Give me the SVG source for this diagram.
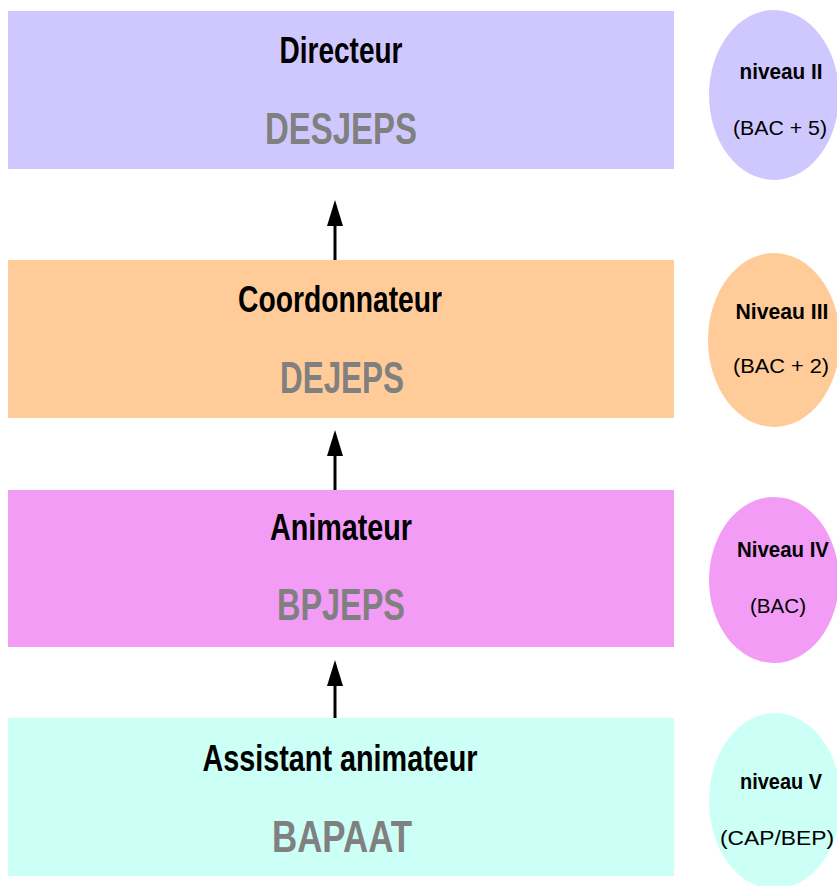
<svg xmlns="http://www.w3.org/2000/svg" width="837" height="886" viewBox="0 0 837 886">
<style>
.title{font-family:"Liberation Sans",Arial,sans-serif;font-weight:bold;font-size:37px;fill:#000;text-anchor:middle}
.code{font-family:"Liberation Sans",Arial,sans-serif;font-weight:bold;font-size:44px;fill:#808080;text-anchor:middle}
.lvl{font-family:"Liberation Sans",Arial,sans-serif;font-weight:bold;font-size:22px;fill:#000;text-anchor:middle}
.dip{font-family:"Liberation Sans",Arial,sans-serif;font-size:21px;fill:#000;text-anchor:middle}
.c1{fill:#CFC8FF}.c2{fill:#FFCC99}.c3{fill:#F39CF5}.c4{fill:#CCFFF5}
.shaft{stroke:#000;stroke-width:3}
.head{fill:#000}
</style>
<rect width="837" height="886" fill="#fff"/>
<g id="connectors">
<line class="shaft" x1="335" y1="262" x2="335" y2="225"/>
<path class="head" d="M335,200 L343,226 L327,226 Z"/>
<line class="shaft" x1="335" y1="491" x2="335" y2="455"/>
<path class="head" d="M335,430 L343,456 L327,456 Z"/>
<line class="shaft" x1="335" y1="719" x2="335" y2="685"/>
<path class="head" d="M335,660 L343,686 L327,686 Z"/>
</g>
<g id="directeur">
<rect class="c1" x="8" y="11" width="666" height="158"/>
<text class="title" x="341" y="63" textLength="123" lengthAdjust="spacingAndGlyphs">Directeur</text>
<text class="code" x="341" y="144" textLength="152" lengthAdjust="spacingAndGlyphs">DESJEPS</text>
</g>
<g id="coordonnateur">
<rect class="c2" x="8" y="260" width="666" height="158"/>
<text class="title" x="340" y="312" textLength="204" lengthAdjust="spacingAndGlyphs">Coordonnateur</text>
<text class="code" x="342" y="393" textLength="124" lengthAdjust="spacingAndGlyphs">DEJEPS</text>
</g>
<g id="animateur">
<rect class="c3" x="8" y="490" width="666" height="157"/>
<text class="title" x="341" y="540" textLength="142" lengthAdjust="spacingAndGlyphs">Animateur</text>
<text class="code" x="341" y="620" textLength="128" lengthAdjust="spacingAndGlyphs">BPJEPS</text>
</g>
<g id="assistant">
<rect class="c4" x="8" y="718" width="666" height="158"/>
<text class="title" x="340" y="771" textLength="275" lengthAdjust="spacingAndGlyphs">Assistant animateur</text>
<text class="code" x="342" y="852" textLength="140" lengthAdjust="spacingAndGlyphs">BAPAAT</text>
</g>
<g id="niveau2">
<ellipse class="c1" cx="774" cy="95" rx="65" ry="85"/>
<text class="lvl" x="781" y="79" textLength="83" lengthAdjust="spacingAndGlyphs">niveau II</text>
<text class="dip" x="780" y="135" textLength="94" lengthAdjust="spacingAndGlyphs">(BAC + 5)</text>
</g>
<g id="niveau3">
<ellipse class="c2" cx="774" cy="340" rx="66" ry="87"/>
<text class="lvl" x="782" y="319" textLength="93" lengthAdjust="spacingAndGlyphs">Niveau III</text>
<text class="dip" x="781" y="373" textLength="96" lengthAdjust="spacingAndGlyphs">(BAC + 2)</text>
</g>
<g id="niveau4">
<ellipse class="c3" cx="774" cy="580" rx="65" ry="83"/>
<text class="lvl" x="783" y="557" textLength="92" lengthAdjust="spacingAndGlyphs">Niveau IV</text>
<text class="dip" x="778" y="613" textLength="56" lengthAdjust="spacingAndGlyphs">(BAC)</text>
</g>
<g id="niveau5">
<ellipse class="c4" cx="775" cy="801" rx="66" ry="88"/>
<text class="lvl" x="781" y="789" textLength="82" lengthAdjust="spacingAndGlyphs">niveau V</text>
<text class="dip" x="777" y="845" textLength="114" lengthAdjust="spacingAndGlyphs">(CAP/BEP)</text>
</g>
</svg>
